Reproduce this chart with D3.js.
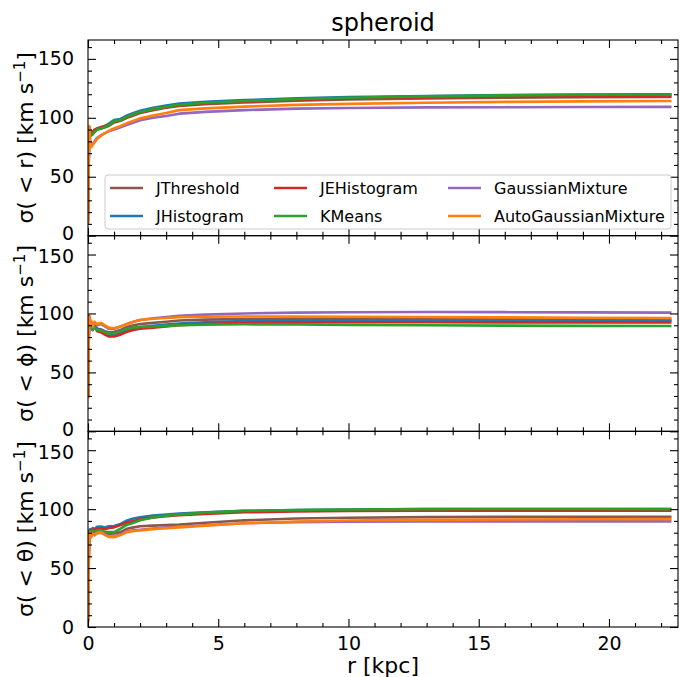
<!DOCTYPE html>
<html>
<head>
<meta charset="utf-8">
<script src="https://cdn.jsdelivr.net/npm/d3@7"></script>
<style>
  body { margin: 0; background: #fff; }
  text { font-family: "DejaVu Sans", sans-serif; fill: #000; }
</style>
</head>
<body>
<div id="viz"></div>
<script>
// radius samples (kpc)
const rKpc = [0.01, 0.03, 0.05, 0.08, 0.12, 0.18, 0.25, 0.35, 0.5, 0.65, 0.8, 1.0, 1.25, 1.5, 1.75, 2.0, 2.5, 3.0, 3.5, 4.5, 6, 8, 10, 13, 16, 19, 22.4];

const methods = ['JThreshold', 'JHistogram', 'JEHistogram', 'KMeans', 'GaussianMixture', 'AutoGaussianMixture'];
const methodColors = ['#8c564b', '#1f77b4', '#d62728', '#2ca02c', '#9467bd', '#ff7f0e'];

// sigma(<r)
const sigR_JThreshold = [20, 68, 90, 88, 85, 86, 88, 90, 91, 92, 93, 96, 97.5, 100, 102, 104, 106.5, 108.5, 110, 111.5, 113, 114.5, 115.5, 116.5, 117.1, 117.4, 117.6];
const sigR_JHistogram = [20, 70, 91, 89, 86, 87, 89, 91, 92, 93, 95, 98, 99, 102, 104, 106, 108.5, 110.5, 112, 113.5, 115, 116.5, 117.5, 118.5, 119.2, 119.8, 120];
const sigR_JEHistogram = [20, 70, 92, 90, 86, 88, 90, 91, 92, 93, 94, 96.5, 98, 100.5, 102.5, 104.5, 107, 109, 110.5, 112.3, 113.8, 115.2, 116.2, 117.2, 117.8, 118.2, 118.4];
const sigR_KMeans = [18, 68, 90, 88, 85, 86, 88, 90, 91, 92, 94, 97, 98, 101, 103, 105, 107.5, 109.5, 111, 112.8, 114.3, 115.8, 117, 118.2, 119, 119.5, 119.8];
const sigR_GaussianMixture = [12, 62, 91, 80, 76, 78, 80, 83, 85, 87, 88.5, 90, 92, 94, 96, 98, 100, 101.5, 103.5, 105, 106.5, 107.8, 108.3, 108.8, 109, 109.2, 109.3];
const sigR_AutoGaussianMixture = [10, 60, 93, 80, 75, 77, 79, 82, 85, 87, 89, 91, 93, 95.5, 97.5, 99.5, 102, 104, 106.5, 108, 109.5, 111, 111.8, 112.8, 113.5, 113.9, 114.2];

// sigma(<phi)
const sigPhi_JThreshold = [30, 82, 96, 89, 92, 87, 90, 87, 86.5, 85, 84, 84.5, 86, 88.5, 90, 91, 92, 93, 94, 94.8, 95.3, 95.5, 95.4, 95.2, 95, 94.9, 94.8];
const sigPhi_JHistogram = [30, 80, 95, 88, 92, 86, 90, 87, 86, 84, 82, 82, 83.5, 86, 87.5, 88.5, 89.5, 90.5, 91.5, 92.5, 93.5, 94, 94, 94, 93.8, 93.7, 93.6];
const sigPhi_JEHistogram = [30, 82, 98, 90, 93, 86, 89, 85, 84, 82, 80.5, 80.5, 82, 84.5, 86, 87, 88, 89, 90, 91, 92, 92.5, 92.5, 92.5, 92.4, 92.3, 92.3];
const sigPhi_KMeans = [30, 80, 94, 88, 91, 86, 89, 86, 85.5, 84, 83, 83, 85, 87, 88, 88.5, 89, 89.5, 90, 90.5, 90.8, 90.7, 90.3, 90, 89.7, 89.5, 89.4];
const sigPhi_GaussianMixture = [30, 84, 96, 89, 93, 88, 92, 90, 91, 89, 87, 87, 89, 91, 93, 94.5, 96, 97, 98, 99, 100, 100.7, 101, 101.2, 101.1, 100.9, 100.7];
const sigPhi_AutoGaussianMixture = [28, 85, 97, 90, 94, 89, 93, 91, 92, 90, 88, 87.5, 89, 91, 93, 94.5, 95.5, 96.2, 96.8, 97.2, 97.4, 97.3, 97.2, 97, 96.7, 96.4, 96.2];

// sigma(<theta)
const sigTheta_JThreshold = [8, 60, 79, 79, 77, 79, 78, 79.5, 80, 79, 79, 79.4, 80.5, 83.4, 84.5, 85.5, 86, 86.5, 87, 88.5, 90.5, 92, 92.7, 93.2, 93.4, 93.5, 93.5];
const sigTheta_JHistogram = [10, 65, 82, 83, 81, 84, 83, 85, 85.3, 84.5, 85.5, 85.6, 87.5, 90.4, 92, 93, 94.5, 95.5, 96.2, 97.3, 98.5, 99.3, 99.7, 100, 100.1, 100.1, 100];
const sigTheta_JEHistogram = [10, 64, 81, 82, 80, 83, 82, 83.5, 83.6, 83, 84, 84.5, 86.5, 88.7, 90, 91.5, 93, 94, 94.8, 96, 97.3, 98, 98.4, 98.6, 98.7, 98.7, 98.6];
const sigTheta_KMeans = [8, 62, 80, 81, 79, 81.5, 80.5, 82, 82, 80.5, 80.5, 80.5, 83.5, 86.8, 88.5, 90.5, 93, 94.5, 95.5, 97, 98.5, 99.3, 99.7, 100, 100.1, 100.1, 100];
const sigTheta_GaussianMixture = [6, 58, 79, 80, 77, 79.5, 78.5, 80, 80.5, 78.5, 77, 76.8, 78.5, 81, 82, 82.5, 83.5, 84.5, 85, 86.3, 88, 89, 89.4, 89.6, 89.6, 89.6, 89.6];
const sigTheta_AutoGaussianMixture = [4, 55, 78, 80, 76, 79, 78, 80, 80.5, 78, 76.5, 76.2, 78, 80.5, 81.5, 82, 83, 83.9, 84.5, 86, 88, 89.5, 90.3, 90.9, 91.2, 91.4, 91.5];

const xTicks = [0, 5, 10, 15, 20];
const yTicks = [0, 50, 100, 150];

const panels = [
    {sym: 'r', series: [sigR_JThreshold, sigR_JHistogram, sigR_JEHistogram, sigR_KMeans, sigR_GaussianMixture, sigR_AutoGaussianMixture]},
    {sym: 'ϕ', series: [sigPhi_JThreshold, sigPhi_JHistogram, sigPhi_JEHistogram, sigPhi_KMeans, sigPhi_GaussianMixture, sigPhi_AutoGaussianMixture]},
    {sym: 'θ', series: [sigTheta_JThreshold, sigTheta_JHistogram, sigTheta_JEHistogram, sigTheta_KMeans, sigTheta_GaussianMixture, sigTheta_AutoGaussianMixture]}
];

const W = 687, H = 677;
const margin = {top: 40, left: 88, right: 9, bottom: 50};
const width = W - margin.left - margin.right,
    panelH = (H - margin.top - margin.bottom) / 3;

const svg = d3.select('#viz')
    .append('svg')
    .attr('width', W)
    .attr('height', H);

const x = d3.scaleLinear().domain([0, 22.65]).range([0, width]);
const y = d3.scaleLinear().domain([0, 166]).range([panelH, 0]);

const line = d3.line()
    .x(function(d) { return x(d[0]); })
    .y(function(d) { return y(d[1]); });

svg.append('defs').append('clipPath').attr('id', 'clip')
    .append('rect').attr('width', width).attr('height', panelH);

// title
svg.append('text')
    .attr('x', margin.left + width / 2)
    .attr('y', 31)
    .attr('text-anchor', 'middle')
    .style('font-size', '24px')
    .text('spheroid');

panels.forEach(function(p, pi) {
    const g = svg.append('g')
        .attr('transform', 'translate(' + margin.left + ',' + (margin.top + pi * panelH) + ')');

    const plot = g.append('g').attr('clip-path', 'url(#clip)');
    p.series.forEach(function(vals, si) {
        plot.append('path')
            .datum(rKpc.map(function(r, i) { return [r, vals[i]]; }))
            .attr('fill', 'none')
            .attr('stroke', methodColors[si])
            .attr('stroke-width', 2.6)
            .attr('stroke-linejoin', 'round')
            .attr('d', line);
    });

    // axes, ticks inward on all sides
    const xMinor = d3.range(0, 23, 1).filter(function(v) { return v % 5 !== 0; });
    const yMinor = d3.range(0, 166, 10).filter(function(v) { return v % 50 !== 0; });

    g.append('g').attr('transform', 'translate(0,' + panelH + ')')
        .call(d3.axisBottom(x).tickValues(xTicks).tickSize(-8).tickPadding(10)
            .tickFormat(pi === 2 ? d3.format('d') : function() { return ''; }));
    g.append('g').attr('transform', 'translate(0,' + panelH + ')')
        .call(d3.axisBottom(x).tickValues(xMinor).tickSize(-4).tickFormat(''));
    g.append('g').call(d3.axisTop(x).tickValues(xTicks).tickSize(-8).tickFormat(''));
    g.append('g').call(d3.axisTop(x).tickValues(xMinor).tickSize(-4).tickFormat(''));

    const yAx = g.append('g')
        .call(d3.axisLeft(y).tickValues(yTicks).tickSize(-8).tickPadding(14));
    // "0" of a panel and "150" of the next one sit close; nudge them apart a little
    yAx.selectAll('.tick text').attr('y', function(d) {
        if (d === 0 && pi < 2) return -2;
        if (d === 150 && pi > 0) return 2;
        return 0;
    });
    g.append('g').call(d3.axisLeft(y).tickValues(yMinor).tickSize(-4).tickFormat(''));
    g.append('g').attr('transform', 'translate(' + width + ',0)')
        .call(d3.axisRight(y).tickValues(yTicks).tickSize(-8).tickFormat(''));
    g.append('g').attr('transform', 'translate(' + width + ',0)')
        .call(d3.axisRight(y).tickValues(yMinor).tickSize(-4).tickFormat(''));

    g.selectAll('.domain').remove();
    g.selectAll('.tick line').attr('stroke', '#000').attr('stroke-width', 1.1);
    g.selectAll('.tick text').style('font-size', '19px').style('font-family', '"DejaVu Sans", sans-serif');

    g.append('rect')
        .attr('width', width).attr('height', panelH)
        .attr('fill', 'none').attr('stroke', '#000').attr('stroke-width', 1.1);

    // y label
    const yl = g.append('text')
        .attr('transform', 'translate(' + (33 - margin.left) + ',' + (panelH / 2) + ') rotate(-90)')
        .attr('text-anchor', 'middle')
        .style('font-size', '22px');
    yl.append('tspan').text('σ( < ' + p.sym + ') [km s');
    yl.append('tspan').attr('dy', -8).style('font-size', '15px').text('−1');
    yl.append('tspan').attr('dy', 8).text(']');
});

// x label
svg.append('text')
    .attr('x', margin.left + width / 2)
    .attr('y', 673)
    .attr('text-anchor', 'middle')
    .style('font-size', '22px')
    .text('r [kpc]');

// legend in the top panel
const leg = svg.append('g').attr('transform', 'translate(105,175)');
leg.append('rect')
    .attr('width', 566).attr('height', 54).attr('rx', 3)
    .attr('fill', '#fff').attr('fill-opacity', 0.8)
    .attr('stroke', '#ccc').attr('stroke-width', 1);
const colX = [5, 169, 343];
methods.forEach(function(m, i) {
    const c = Math.floor(i / 2), rIdx = i % 2;
    const item = leg.append('g').attr('transform', 'translate(' + colX[c] + ',' + (13 + rIdx * 28) + ')');
    item.append('line').attr('x1', 0).attr('x2', 33)
        .attr('stroke', methodColors[i]).attr('stroke-width', 2.6);
    item.append('text').attr('x', 46).attr('dy', '0.35em')
        .style('font-size', '16px').text(m);
});
</script>
</body>
</html>
